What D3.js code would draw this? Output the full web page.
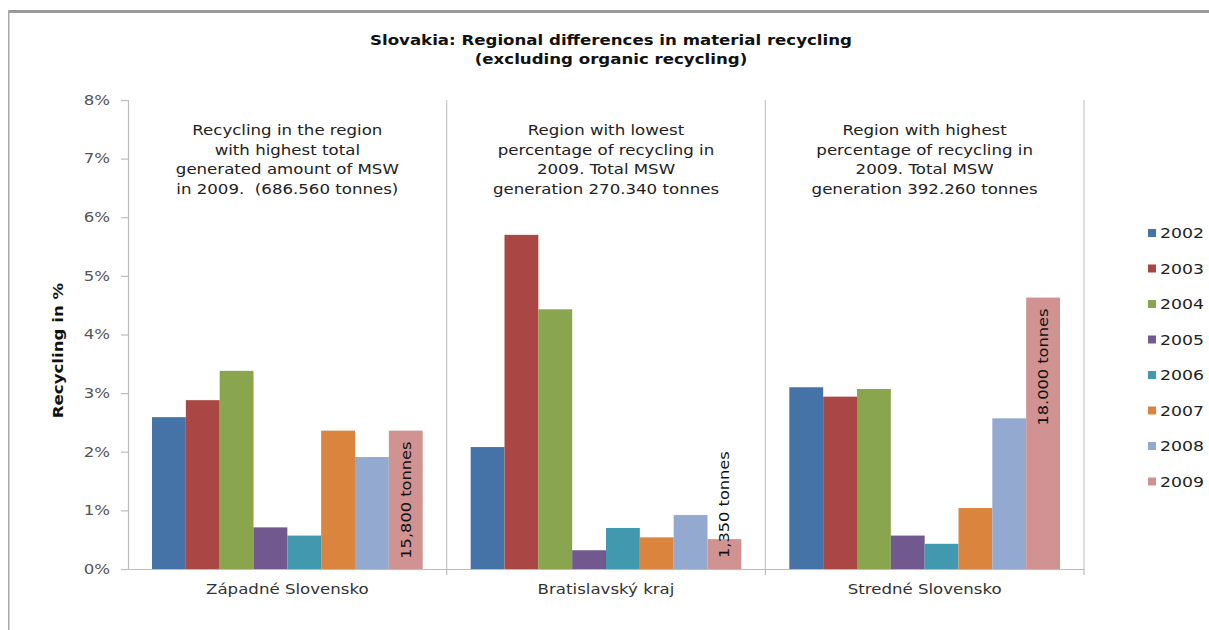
<!DOCTYPE html>
<html>
<head>
<meta charset="utf-8">
<script src="https://cdn.jsdelivr.net/npm/d3@7"></script>
<style>
  html, body { margin: 0; padding: 0; background: #fff; }
  svg { display: block; font-family: "DejaVu Sans", Verdana, sans-serif; }
</style>
</head>
<body>
<svg id="chart" width="1209" height="630"></svg>
<script>
// Regions (categories) and the years plotted within each region
const regions = ["Západné Slovensko", "Bratislavský kraj", "Stredné Slovensko"];
const years = ["2002", "2003", "2004", "2005", "2006", "2007", "2008", "2009"];

// Material recycling rate (%) per year, one array per region
const zapadne = [2.59, 2.88, 3.38, 0.71, 0.57, 2.36, 1.91, 2.36];
const bratislava = [2.08, 5.70, 4.43, 0.32, 0.70, 0.54, 0.92, 0.51];
const stredne = [3.10, 2.94, 3.07, 0.57, 0.43, 1.04, 2.57, 4.63];
const seriesByRegion = [zapadne, bratislava, stredne];

// Tonnage notes printed on the 2009 bars
const notes2009 = ["15,800 tonnes", "1,350 tonnes", "18.000 tonnes"];

// Explanatory text above each region
const regionNotes = [
  ["Recycling in the region", "with highest total", "generated amount of MSW", "in 2009.\u00a0 (686.560 tonnes)"],
  ["Region with lowest", "percentage of recycling in", "2009. Total MSW", "generation 270.340 tonnes"],
  ["Region with highest", "percentage of recycling in", "2009. Total MSW", "generation 392.260 tonnes"]
];

const yTicks = [0, 1, 2, 3, 4, 5, 6, 7, 8];
const colors = ["#4572A7", "#AA4643", "#89A54E", "#71588F", "#4198AF", "#DB843D", "#93A9CF", "#D19392"];

const svg = d3.select("#chart");

// Widen glyphs of a text selection by a horizontal factor (wide Verdana-like set)
function widen(sel, factor) {
  sel.each(function () {
    const len = this.getComputedTextLength();
    d3.select(this).attr("textLength", len * factor).attr("lengthAdjust", "spacingAndGlyphs");
  });
  return sel;
}
const W = 1.23;

// Outer frame: heavy gray top edge and thin left edge
svg.append("rect").attr("x", 8).attr("y", 10).attr("width", 1201).attr("height", 3).attr("fill", "#9a9a9a");
svg.append("rect").attr("x", 8).attr("y", 10).attr("width", 1.5).attr("height", 620).attr("fill", "#a8a8a8");

const plot = { left: 128, right: 1084, top: 100, bottom: 569 };

const y = d3.scaleLinear().domain([0, 8]).range([plot.bottom, plot.top]);
const x0 = d3.scaleBand().domain(regions).range([plot.left, plot.right]).padding(0);
const x1 = d3.scaleBand().domain(years).range([24, x0.bandwidth() - 24]).padding(0);
const color = d3.scaleOrdinal().domain(years).range(colors);

// Title
const titleLines = ["Slovakia: Regional differences in material recycling", "(excluding organic recycling)"];
widen(svg.append("g").selectAll("text")
  .data(titleLines)
  .join("text")
  .attr("x", 611).attr("y", (d, i) => 45 + i * 19)
  .attr("text-anchor", "middle").attr("font-weight", "bold")
  .attr("font-size", 13.5).attr("fill", "#111")
  .text(d => d), W);

// Region separators
svg.append("g").selectAll("line")
  .data(regions)
  .join("line")
  .attr("x1", d => x0(d) + x0.bandwidth()).attr("x2", d => x0(d) + x0.bandwidth())
  .attr("y1", plot.top).attr("y2", plot.bottom)
  .attr("stroke", "#c8c8c8").attr("stroke-width", 1.2);

// Y axis
const yAxis = d3.axisLeft(y).tickValues(yTicks).tickFormat(d => d + "%").tickSize(7).tickPadding(11);
const gy = svg.append("g").attr("transform", `translate(${plot.left},0)`).call(yAxis);
gy.select(".domain").attr("stroke", "#bdbdbd").attr("stroke-width", 1.2);
gy.selectAll(".tick line").attr("stroke", "#bdbdbd").attr("stroke-width", 1.2);
widen(gy.selectAll(".tick text").attr("font-size", 13.5).attr("fill", "#555")
  .attr("font-family", "DejaVu Sans, Verdana, sans-serif"), W);

// X axis
const xAxis = d3.axisBottom(x0).tickSize(0).tickPadding(15);
const gx = svg.append("g").attr("transform", `translate(0,${plot.bottom})`).call(xAxis);
gx.select(".domain").attr("stroke", "#bdbdbd").attr("stroke-width", 1.2);
widen(gx.selectAll(".tick text").attr("font-size", 13.5).attr("fill", "#333")
  .attr("font-family", "DejaVu Sans, Verdana, sans-serif"), W);
// Boundary tick marks below the x axis
gx.append("g").selectAll("line")
  .data(regions)
  .join("line")
  .attr("x1", d => x0(d) + x0.bandwidth()).attr("x2", d => x0(d) + x0.bandwidth())
  .attr("y1", 0).attr("y2", 6)
  .attr("stroke", "#bdbdbd").attr("stroke-width", 1.2);

// Y axis title
widen(svg.append("text")
  .attr("transform", `translate(63,${(plot.top + plot.bottom) / 2 + 16}) rotate(-90)`)
  .attr("text-anchor", "middle").attr("font-weight", "bold")
  .attr("font-size", 13.5).attr("fill", "#111")
  .text("Recycling in %"), W);

// Bars
const groups = svg.append("g").selectAll("g")
  .data(regions.map((r, i) => ({ region: r, values: seriesByRegion[i], note: notes2009[i], text: regionNotes[i] })))
  .join("g")
  .attr("transform", d => `translate(${x0(d.region)},0)`);

groups.selectAll("rect")
  .data(d => d.values.map((v, j) => ({ year: years[j], value: v })))
  .join("rect")
  .attr("x", d => x1(d.year))
  .attr("y", d => y(d.value))
  .attr("width", x1.bandwidth())
  .attr("height", d => y(0) - y(d.value))
  .attr("fill", d => color(d.year));

// Rotated tonnage note on each 2009 bar
groups.each(function (d) {
  const g = d3.select(this);
  const v = d.values[years.indexOf("2009")];
  const cx = x1("2009") + x1.bandwidth() / 2;
  const barH = y(0) - y(v);
  const fits = barH > 130;
  const t = g.append("text")
    .attr("font-size", 13.5).attr("fill", "#111")
    .attr("dominant-baseline", "central")
    .text(d.note);
  widen(t, 1.2);
  if (fits) {
    t.attr("text-anchor", "end")
      .attr("transform", `translate(${cx},${y(v) + 11}) rotate(-90)`);
  } else {
    t.attr("text-anchor", "start")
      .attr("transform", `translate(${cx},${y(0) - 11}) rotate(-90)`);
  }
});

// Explanatory notes above each region
widen(groups.append("g")
  .selectAll("text")
  .data(d => d.text)
  .join("text")
  .attr("text-anchor", "middle")
  .attr("font-size", 13.5).attr("fill", "#222")
  .attr("x", x0.bandwidth() / 2)
  .attr("y", (d, i) => 135 + i * 19.5)
  .text(d => d), W);

// Legend
const legend = svg.append("g").selectAll("g")
  .data(years)
  .join("g")
  .attr("transform", (d, i) => `translate(1148,${233 + i * 35.5})`);
legend.append("rect").attr("x", 0).attr("y", -4).attr("width", 8).attr("height", 8).attr("fill", d => color(d));
widen(legend.append("text").attr("x", 12).attr("y", 0).attr("dominant-baseline", "central")
  .attr("font-size", 13.5).attr("fill", "#222").text(d => d), 1.28);
</script>
</body>
</html>
